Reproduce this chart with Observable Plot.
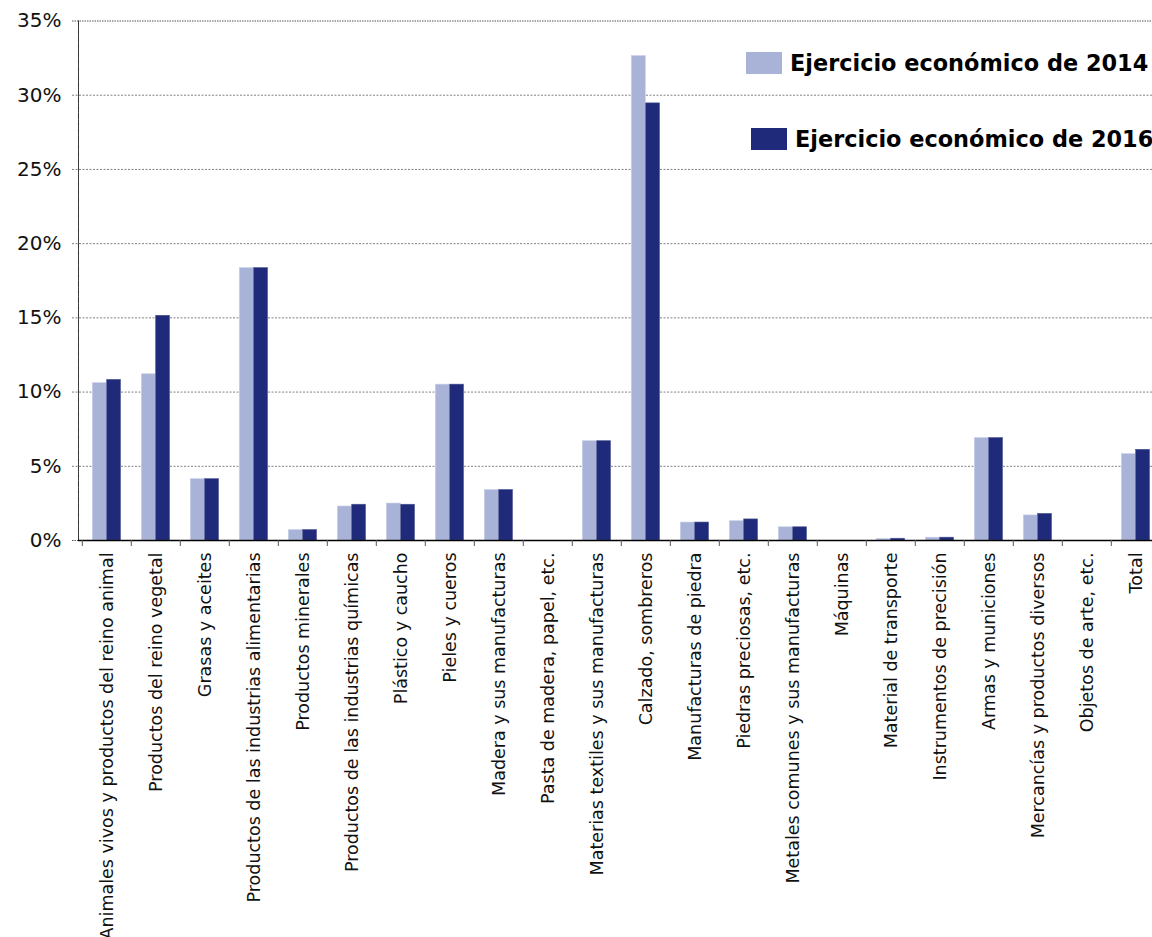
<!DOCTYPE html>
<html><head><meta charset="utf-8">
<script src="https://cdn.jsdelivr.net/npm/d3@7"></script>
<script src="https://cdn.jsdelivr.net/npm/@observablehq/plot@0.6"></script>
<style>
html,body{margin:0;padding:0;background:#fff;overflow:hidden;}
#wrap{position:relative;width:1152px;height:937px;overflow:hidden;}
.lg{position:absolute;display:flex;align-items:center;white-space:nowrap;font-family:"DejaVu Sans",sans-serif;font-weight:bold;font-size:22.4px;color:#000;}
.sw{display:inline-block;width:36px;height:22px;margin-right:8px;}
</style></head><body><div id="wrap"></div>
<script>
const categories = [
  "Animales vivos y productos del reino animal",
  "Productos del reino vegetal",
  "Grasas y aceites",
  "Productos de las industrias alimentarias",
  "Productos minerales",
  "Productos de las industrias químicas",
  "Plástico y caucho",
  "Pieles y cueros",
  "Madera y sus manufacturas",
  "Pasta de madera, papel, etc.",
  "Materias textiles y sus manufacturas",
  "Calzado, sombreros",
  "Manufacturas de piedra",
  "Piedras preciosas, etc.",
  "Metales comunes y sus manufacturas",
  "Máquinas",
  "Material de transporte",
  "Instrumentos de precisión",
  "Armas y municiones",
  "Mercancías y productos diversos",
  "Objetos de arte, etc.",
  "Total"
];
const series = ["Ejercicio económico de 2014", "Ejercicio económico de 2016"];
const v2014 = [10.6, 11.2, 4.13, 18.35, 0.7, 2.29, 2.49, 10.5, 3.4, 0, 6.69, 32.64, 1.21, 1.3, 0.89, 0, 0.1, 0.19, 6.9, 1.69, 0, 5.82];
const v2016 = [10.82, 15.14, 4.13, 18.35, 0.7, 2.41, 2.41, 10.5, 3.4, 0, 6.69, 29.45, 1.21, 1.42, 0.89, 0, 0.12, 0.19, 6.9, 1.79, 0, 6.11];
const yTicks = [0, 5, 10, 15, 20, 25, 30, 35];
const colors = ["#a9b3d7", "#1f2a7a"];

const rows2014 = categories.map((c, i) => ({cat: c, value: v2014[i]}));
const rows2016 = categories.map((c, i) => ({cat: c, value: v2016[i]}));

const x0 = 78, bw = 49.4;
const chart = Plot.plot({
  width: 1152, height: 937,
  marginTop: 20.5, marginBottom: 397, marginLeft: 78, marginRight: 0,
  style: {fontFamily: "DejaVu Sans, sans-serif", background: "white", color: "#000"},
  x: {domain: categories, range: [x0, x0 + bw * categories.length], padding: 0, label: null},
  y: {domain: [0, 35], label: null},
  marks: [
    Plot.ruleY(yTicks.filter(d => d > 0 && d < 35), {stroke: "#808080", strokeDasharray: "2,1.5", insetLeft: -6}),
    Plot.ruleY([35], {stroke: "#555", strokeDasharray: "1.5,1", insetLeft: -6}),
    Plot.ruleY([0], {stroke: "#555", strokeDasharray: "1.5,1", insetLeft: -6, insetRight: 1074}),
    Plot.barY(rows2014, {x: "cat", y: "value", fill: colors[0], stroke: "#c9d0ea", strokeWidth: 0.6, insetLeft: 10.3, insetRight: 24.7}),
    Plot.barY(rows2016, {x: "cat", y: "value", fill: colors[1], stroke: "#4a548f", strokeWidth: 0.6, insetLeft: 24.7, insetRight: 10.5}),
    Plot.frame({anchor: "left", stroke: "#333", strokeDasharray: "1.5,0.8"}),
    Plot.ruleY([0], {stroke: "#000", strokeWidth: 1.3}),
    Plot.ruleX(categories, {x: d => d, dx: -bw / 2, y1: 0, y2: 0, insetBottom: -6, stroke: "#555"}),
    Plot.axisY({ticks: yTicks, tickFormat: d => d + "%", tickSize: 0, tickPadding: 17, fontSize: 20, fill: "#111", label: null}),
    Plot.axisX({tickSize: 0, tickPadding: 12, tickRotate: -90, fontSize: 17.5, fill: "#111", label: null})
  ]
});
const wrap = document.getElementById("wrap");
wrap.appendChild(chart);

const legendPos = [{left: 746, top: 50}, {left: 751, top: 126}];
series.forEach((s, i) => {
  const d = document.createElement("div");
  d.className = "lg";
  d.style.left = legendPos[i].left + "px";
  d.style.top = legendPos[i].top + "px";
  const sw = document.createElement("span");
  sw.className = "sw";
  sw.style.background = colors[i];
  d.appendChild(sw);
  const t = document.createElement("span");
  t.textContent = s;
  d.appendChild(t);
  wrap.appendChild(d);
});
</script>
</body></html>
